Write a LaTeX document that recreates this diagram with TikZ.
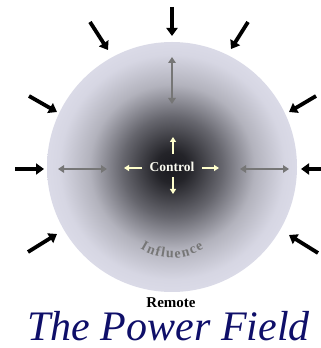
\documentclass[tikz,border=0pt]{standalone}
\usepackage{fontspec}
\setmainfont{Liberation Serif}
\usetikzlibrary{arrows.meta,decorations.text}
\definecolor{navy}{RGB}{15,15,105}
\definecolor{midgray}{RGB}{118,118,118}
\definecolor{cream}{RGB}{255,255,205}
\definecolor{ctrltext}{RGB}{250,250,240}
\pgfdeclareradialshading{field}{\pgfpoint{0bp}{0bp}}{rgb(0bp)=(0.10,0.10,0.12); rgb(3.2bp)=(0.14,0.14,0.16); rgb(10bp)=(0.40,0.40,0.43); rgb(16.5bp)=(0.70,0.70,0.74); rgb(22.5bp)=(0.84,0.84,0.89); rgb(27bp)=(0.87,0.87,0.92); rgb(33bp)=(0.885,0.885,0.93); rgb(50bp)=(0.885,0.885,0.93)}
\tikzset{
  pusharrow/.style={line width=3.8pt, black, -{Triangle[length=8pt,width=11pt]}},
  spreadarrow/.style={line width=2.4pt, midgray, {Triangle[length=6pt,width=7.5pt]}-{Triangle[length=6pt,width=7.5pt]}},
  growarrow/.style={line width=2pt, cream, -{Triangle[length=5pt,width=6pt]}},
}
\begin{document}
\begin{tikzpicture}[x=1pt,y=1pt]
\useasboundingbox (0,0) rectangle (321,348);
% field
\node[circle, minimum size=250pt, inner sep=0pt, shading=field] (field) at (172,181) {};
% inward pressure arrows
\coordinate (t0) at (172,341); \coordinate (t1) at (172,312);
\coordinate (tl0) at (90,326); \coordinate (tl1) at (108,298);
\coordinate (tr0) at (248,326); \coordinate (tr1) at (231,299);
\coordinate (lu0) at (29,252); \coordinate (lu1) at (57,236);
\coordinate (ru0) at (316,252); \coordinate (ru1) at (289,236);
\coordinate (lm0) at (15,179); \coordinate (lm1) at (44,179);
\coordinate (rm0) at (321,179); \coordinate (rm1) at (301,179);
\coordinate (ll0) at (28,96); \coordinate (ll1) at (57,114);
\coordinate (rl0) at (318,95); \coordinate (rl1) at (289,113);
\foreach \a in {t,tl,tr,lu,ru,lm,rm,ll,rl} \draw[pusharrow] (\a0) -- (\a1);
% influence arrows
\coordinate (gv0) at (172,291); \coordinate (gv1) at (172,244);
\coordinate (gl0) at (58,179); \coordinate (gl1) at (107,179);
\coordinate (gr0) at (240,179); \coordinate (gr1) at (289,179);
\draw[spreadarrow] (gv0) -- (gv1);
\draw[spreadarrow] (gl0) -- (gl1);
\draw[spreadarrow] (gr0) -- (gr1);
% control
\node[font=\bfseries\fontsize{13.5}{16}\selectfont, text=ctrltext, inner sep=1pt] (ctrl) at (172,181) {Control};
\coordinate (yu0) at (173,194); \coordinate (yu1) at (173,211);
\coordinate (yd0) at (173,171); \coordinate (yd1) at (173,154);
\coordinate (yl0) at (142,180); \coordinate (yl1) at (124,180);
\coordinate (yr0) at (202,180); \coordinate (yr1) at (219,180);
\foreach \a in {yu,yd,yl,yr} \draw[growarrow] (\a0) -- (\a1);
% influence label
\path[decorate, decoration={text along path, text align={fit to path},
  text={|\bfseries\fontsize{14}{16}\selectfont\color{midgray}|Influence}}]
  (172,150) ++(238:60) arc[start angle=238, end angle=302, radius=60];
% remote
\node[font=\bfseries\fontsize{15}{17}\selectfont, inner sep=0pt] (remote) at (171,45) {Remote};
% title
\node[font=\itshape\fontsize{42}{45}\selectfont, text=navy, anchor=base, inner sep=0pt] (title) at (168.5,8) {The Power Field};
\end{tikzpicture}
\end{document}
